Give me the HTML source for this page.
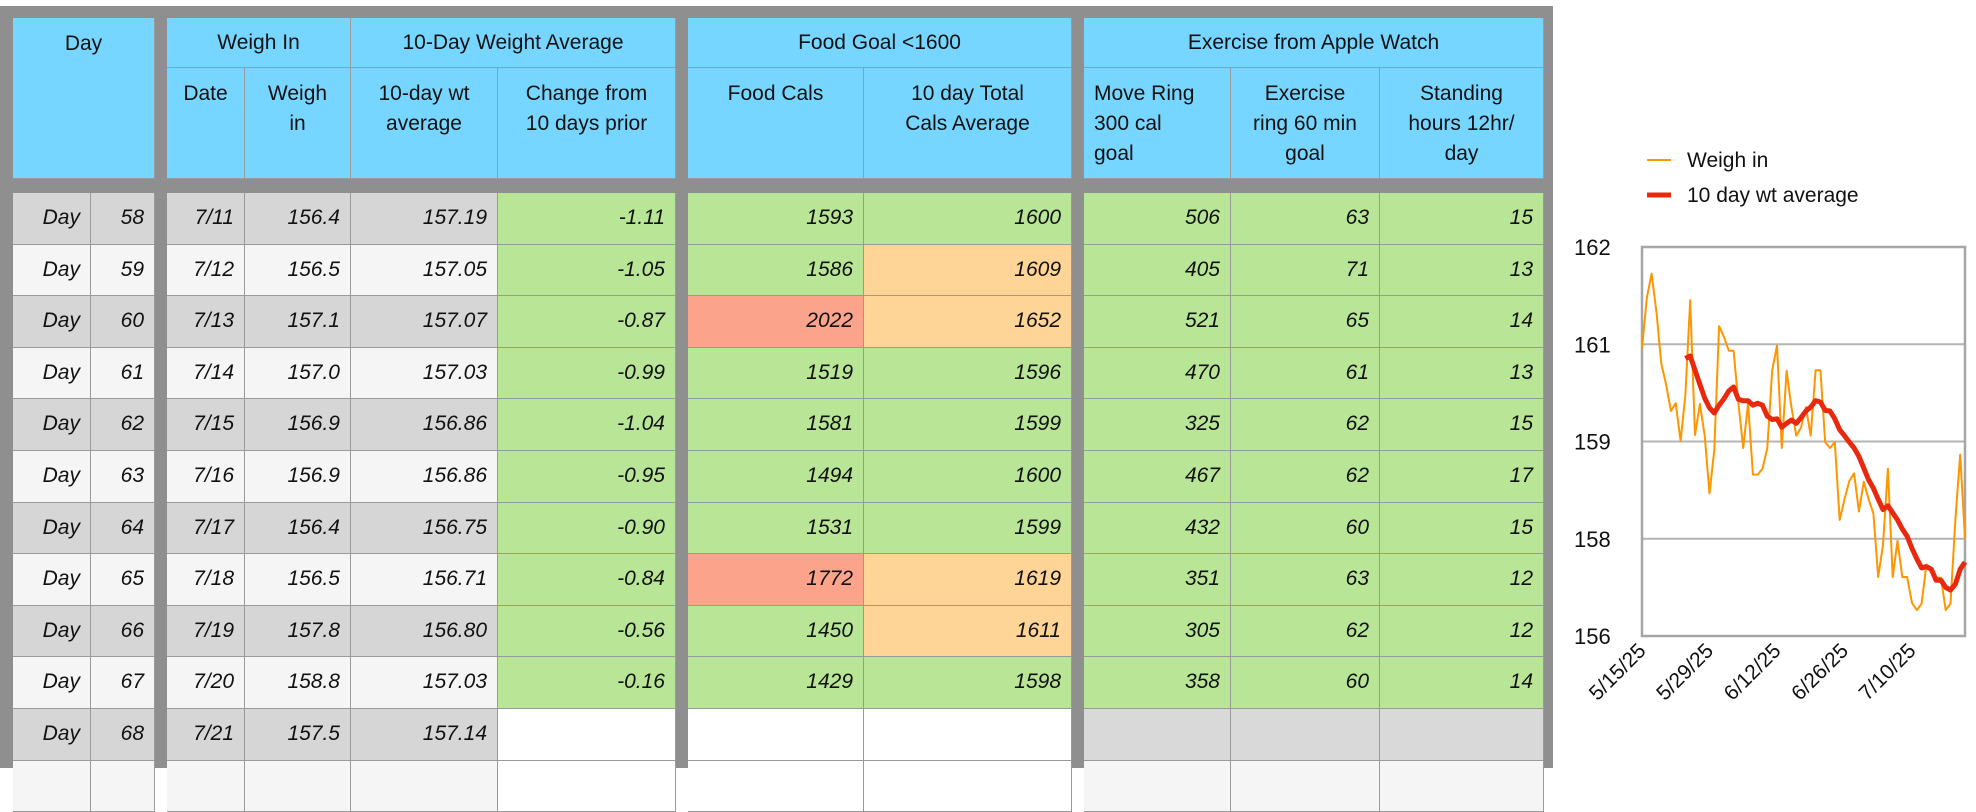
<!DOCTYPE html>
<html><head><meta charset="utf-8">
<style>
body{margin:0;width:1976px;height:768px;background:#fff;overflow:hidden;font-family:"Liberation Sans",Arial,sans-serif;position:relative}
.c{position:absolute;box-sizing:border-box;border-right:1px solid #9a9a9a;border-bottom:1px solid #9a9a9a;font-size:21px;color:#111}
.h{background:#76d6ff;text-align:center;line-height:30px;padding-top:11px}
.d{font-style:italic;text-align:right;padding-right:10px;line-height:50px}
.g{position:absolute;background:#8f8f8f}
</style></head><body>
<div id="tbl"></div>
<svg id="chart" width="1976" height="768" style="position:absolute;left:0;top:0;pointer-events:none;font-family:'Liberation Sans',Arial,sans-serif"></svg>
<script>
// ---------- TABLE ----------
const dayNums=[58,59,60,61,62,63,64,65,66,67,68];
const dates=['7/11','7/12','7/13','7/14','7/15','7/16','7/17','7/18','7/19','7/20','7/21'];
const weighIns=['156.4','156.5','157.1','157.0','156.9','156.9','156.4','156.5','157.8','158.8','157.5'];
const avgs=['157.19','157.05','157.07','157.03','156.86','156.86','156.75','156.71','156.80','157.03','157.14'];
const changes=['-1.11','-1.05','-0.87','-0.99','-1.04','-0.95','-0.90','-0.84','-0.56','-0.16',''];
const foodCals=['1593','1586','2022','1519','1581','1494','1531','1772','1450','1429',''];
const totalCals=['1600','1609','1652','1596','1599','1600','1599','1619','1611','1598',''];
const moveRing=['506','405','521','470','325','467','432','351','305','358',''];
const exRing=['63','71','65','61','62','62','60','63','62','60',''];
const standing=['15','13','14','13','15','17','15','12','12','14',''];
const tbl=document.getElementById('tbl');
function cell(x,y,w,h,cls,html,bg,name){
  const e=document.createElement('div');
  e.className='c '+cls;
  
  
  e.style.left=x+'px';e.style.top=y+'px';e.style.width=w+'px';e.style.height=h+'px';
  if(bg)e.style.background=bg;
  e.innerHTML=html;tbl.appendChild(e);return e;
}
function bar(x,y,w,h){
  const e=document.createElement('div');
  e.className='g';
  
  
  e.style.left=x+'px';e.style.top=y+'px';e.style.width=w+'px';e.style.height=h+'px';
  tbl.appendChild(e);
}
const X=[13,91,155,167,245,351,498,676,688,864,1072,1084,1231,1380,1544];
bar(0,6,1553,12);bar(0,6,13,762);bar(155,6,12,762);bar(676,6,12,762);bar(1072,6,12,762);bar(1544,6,9,762);bar(0,179,1553,14);
cell(13,18,142,161,'h','Day',null,'day-header');
cell(167,18,184,50,'h','Weigh In',null,'weigh-in-group-header').style.paddingTop='10px';
cell(351,18,325,50,'h','10-Day Weight Average',null,'avg-group-header').style.paddingTop='10px';
cell(688,18,384,50,'h','Food Goal &lt;1600',null,'food-group-header').style.paddingTop='10px';
cell(1084,18,460,50,'h','Exercise from Apple Watch',null,'exercise-group-header').style.paddingTop='10px';
const sub=[[167,'Date','date-header'],[245,'Weigh<br>in','weigh-in-header'],[351,'10-day wt<br>average','avg-header'],[498,'Change from<br>10 days prior','change-header'],[688,'Food Cals','food-cals-header'],[864,'10 day Total<br>Cals Average','total-cals-header'],[1084,'Move Ring<br>300 cal<br>goal','move-ring-header'],[1231,'Exercise<br>ring 60 min<br>goal','exercise-ring-header'],[1380,'Standing<br>hours 12hr/<br>day','standing-header']];
const nextX={167:245,245:351,351:498,498:676,688:864,864:1072,1084:1231,1231:1380,1380:1544};
sub.forEach(s=>{const e=cell(s[0],68,nextX[s[0]]-s[0],111,'h',s[1],null,s[2]);if(s[0]===1084){e.style.textAlign='left';e.style.paddingLeft='10px';}});
const GR='#b8e596',OR='#fed596',RD='#fca48b',DK='#d6d6d6',LT='#f5f5f5';
for(let i=0;i<12;i++){
  const y=193+i*51.6, h=51.6;
  const base=i%2===0?DK:LT;
  const last=i===10, extra=i===11;
  const v=(a)=>extra?'':a[i];
  cell(13,y,78,h,'d',extra?'':'Day',base,'day-label');
  cell(91,y,64,h,'d',extra?'':dayNums[i],base,'day-number');
  cell(167,y,78,h,'d',v(dates),base,'date-cell');
  cell(245,y,106,h,'d',v(weighIns),base,'weigh-in-cell');
  cell(351,y,147,h,'d',v(avgs),base,'avg-cell');
  const fill=(last||extra)?'#fff':GR;
  cell(498,y,178,h,'d',v(changes),fill,'change-cell');
  const fc=extra?'':foodCals[i];
  cell(688,y,176,h,'d',fc,(last||extra)?'#fff':(+fc>1700?RD:GR),'food-cals-cell');
  const tc=extra?'':totalCals[i];
  cell(864,y,208,h,'d',tc,(last||extra)?'#fff':(+tc>1600?OR:GR),'total-cals-cell');
  const ef=last?'#d9d9d9':(extra?'#f5f5f5':GR);
  cell(1084,y,147,h,'d',v(moveRing),ef,'move-ring-cell');
  cell(1231,y,149,h,'d',v(exRing),ef,'exercise-ring-cell');
  cell(1380,y,164,h,'d',v(standing),ef,'standing-cell');
}
// ---------- CHART ----------
const weighSeries=[160.43,161.21,161.59,160.99,160.20,159.88,159.47,159.59,159.01,159.72,161.18,159.10,159.58,159.09,158.20,158.87,160.78,160.61,160.40,160.40,159.59,158.90,159.59,158.49,158.49,158.58,158.90,160.10,160.48,158.90,160.09,159.53,159.09,159.22,159.53,159.09,160.10,160.10,158.99,158.90,158.99,157.79,158.11,158.39,158.51,157.92,158.38,158.11,157.89,156.91,157.41,158.58,156.91,157.47,156.91,156.91,156.51,156.4,156.5,157.1,157.0,156.9,156.9,156.4,156.5,157.8,158.8,157.5];
const avgSeries=[null,null,null,null,null,null,null,null,null,160.28,160.32,160.10,159.88,159.67,159.52,159.44,159.56,159.66,159.78,159.84,159.65,159.63,159.63,159.56,159.59,159.56,159.39,159.34,159.35,159.22,159.28,159.33,159.28,159.37,159.47,159.53,159.63,159.61,159.48,159.47,159.35,159.18,159.09,158.99,158.90,158.77,158.59,158.41,158.28,158.11,157.95,158.01,157.90,157.79,157.65,157.54,157.35,157.19,157.05,157.07,157.03,156.86,156.86,156.75,156.71,156.80,157.03,157.14];
const yTickValues=[162,160.5,159,157.5,156];
const yTickLabels=['162','161','159','158','156'];
const xTickIdx=[0,14,28,42,56];
const xTickLabels=['5/15/25','5/29/25','6/12/25','6/26/25','7/10/25'];
const L=1642,R=1965,T=247,B=636,YMIN=156,YMAX=162,N=weighSeries.length;
const xs=i=>L+(R-L)*i/(N-1);
const ys=v=>B-(B-T)*(v-YMIN)/(YMAX-YMIN);
const svg=document.getElementById('chart');const NS='http://www.w3.org/2000/svg';
function mk(tag,attrs,name,txt){const e=document.createElementNS(NS,tag);for(const k in attrs)e.setAttribute(k,attrs[k]);
  
  
  if(txt!==undefined)e.textContent=txt;svg.appendChild(e);return e;}
yTickValues.forEach((v,i)=>{
  if(i>0&&i<yTickValues.length-1)mk('line',{x1:L,x2:R,y1:ys(v),y2:ys(v),stroke:'#b4b4b4','stroke-width':2},'gridline');
  mk('text',{x:1574,y:ys(v)+8,'font-size':22,fill:'#111'},'y-tick-label',yTickLabels[i]);
});
mk('rect',{x:L,y:T,width:R-L,height:B-T,fill:'none',stroke:'#a6a6a6','stroke-width':2.5},'plot-frame');
xTickIdx.forEach((d,i)=>{const x=xs(d)+5,y=B+16;
  mk('text',{x:x,y:y,'font-size':21,fill:'#111','text-anchor':'end',transform:`rotate(-45 ${x} ${y})`},'x-tick-label',xTickLabels[i]);});
let p='';weighSeries.forEach((v,i)=>{p+=(i?'L':'M')+xs(i).toFixed(1)+' '+ys(v).toFixed(1);});
mk('path',{d:p,fill:'none',stroke:'#ff9500','stroke-width':2,'stroke-linejoin':'round'},'weigh-in-line');
let q='',started=false;avgSeries.forEach((v,i)=>{if(v===null)return;q+=(started?'L':'M')+xs(i).toFixed(1)+' '+ys(v).toFixed(1);started=true;});
mk('path',{d:q,fill:'none',stroke:'#e8290e','stroke-width':5,'stroke-linejoin':'round'},'avg-line');
mk('line',{x1:1647,x2:1671,y1:160,y2:160,stroke:'#ff9500','stroke-width':2},'legend-swatch-weigh-in');
mk('text',{x:1687,y:167,'font-size':21,fill:'#111'},'legend-label-weigh-in','Weigh in');
mk('line',{x1:1647,x2:1671,y1:195,y2:195,stroke:'#e8290e','stroke-width':5},'legend-swatch-avg');
mk('text',{x:1687,y:202,'font-size':21,fill:'#111'},'legend-label-avg','10 day wt average');
</script>
</body></html>
